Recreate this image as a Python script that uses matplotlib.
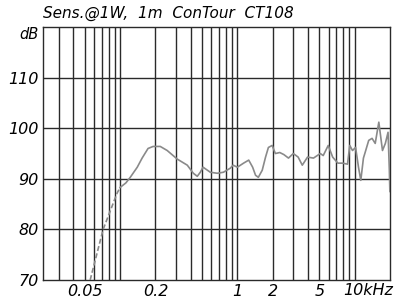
import numpy as np
import matplotlib
matplotlib.use("Agg")
import matplotlib.pyplot as plt

# frequency response (kHz, dB)
freq_low = [0.0555, 0.0716, 0.0943, 0.1]
spl_low = [70.0, 80.0, 87.2, 88.3]

freq = [0.1, 0.112, 0.122, 0.14, 0.154, 0.173, 0.191, 0.22, 0.252, 0.307,
        0.374, 0.421, 0.455, 0.483, 0.51, 0.588, 0.674, 0.76, 0.87, 0.92,
        1.0, 1.13, 1.25, 1.35, 1.43, 1.51, 1.63, 1.74, 1.84, 1.98,
        2.11, 2.3, 2.49, 2.73, 3.0, 3.3, 3.58, 3.97, 4.46, 5.1,
        5.4, 5.96, 6.5, 7.2, 7.9, 8.7, 9.1, 9.6, 10.2, 10.8,
        11.3, 11.9, 12.3, 13.2, 14.1, 15.0, 16.1, 17.3, 18.3, 19.3,
        19.8, 20.0]
spl = [88.3, 89.2, 90.3, 92.3, 94.1, 96.0, 96.4, 96.4, 95.6, 93.9,
       92.7, 91.1, 90.5, 91.3, 92.3, 91.3, 91.1, 91.3, 92.1, 92.7,
       92.3, 93.1, 93.7, 92.3, 90.7, 90.3, 91.7, 94.3, 96.2, 96.6,
       95.0, 95.2, 94.8, 94.1, 95.0, 94.3, 92.7, 94.3, 94.1, 95.0,
       94.6, 96.6, 94.3, 93.1, 93.1, 92.9, 96.6, 95.6, 96.2, 92.3,
       89.7, 94.1, 95.2, 97.6, 98.0, 97.0, 101.2, 95.6, 97.0, 99.2,
       91.7, 87.5]

x_grid = [0.03, 0.04, 0.05, 0.06, 0.07, 0.08, 0.09, 0.1, 0.2, 0.3, 0.4,
          0.5, 0.6, 0.7, 0.8, 0.9, 1, 2, 3, 4, 5, 6, 7, 8, 9, 10]
x_ticks = [0.05, 0.2, 1, 2, 5]
x_labels = ["0.05", "0.2", "1", "2", "5"]
y_ticks = [70, 80, 90, 100, 110, 120]
y_labels = ["70", "80", "90", "100", "110", "dB"]
title = "Sens.@1W,  1m  ConTour  CT108"

fnt = {'family': 'DejaVu Sans', 'style': 'oblique'}

fig = plt.figure(figsize=(3.95, 2.99), dpi=100)
ax = fig.add_axes([0.109, 0.0635, 0.878, 0.846])

ax.set_xscale('log')
ax.set_xlim(0.022, 20)
ax.set_ylim(70, 120)

for xv in x_grid:
    ax.axvline(xv, color='#2a2a2a', lw=1.0, zorder=1)
for yv in y_ticks[1:-1]:
    ax.axhline(yv, color='#2a2a2a', lw=1.0, zorder=1)

ax.plot(freq_low, spl_low, color='#8a8a8a', lw=1.2, ls=(0, (3, 1.5)), zorder=3)
ax.plot(freq, spl, color='#8a8a8a', lw=1.2, zorder=3)

ax.set_xticks(x_ticks)
ax.set_xticklabels(x_labels, fontdict=fnt, fontsize=11.5)
ax.xaxis.set_minor_locator(plt.NullLocator())
ax.set_yticks(y_ticks)
ax.set_yticklabels(y_labels, fontdict=fnt, fontsize=11.5)
ax.tick_params(length=0, pad=3)
ax.get_yticklabels()[-1].set_verticalalignment('top')
ax.get_yticklabels()[-1].set_fontsize(10.5)

ax.annotate("10kHz", xy=(10, 0), xycoords=('data', 'axes fraction'),
            xytext=(-11, -3), textcoords='offset pixels',
            ha='left', va='top', fontsize=11.5, **fnt)

for s in ax.spines.values():
    s.set_color('#2a2a2a')
    s.set_linewidth(1.0)

fig.text(0.109, 0.956, title, ha='left', va='center', fontsize=11, **fnt)

fig.savefig("out.png", dpi=100)
